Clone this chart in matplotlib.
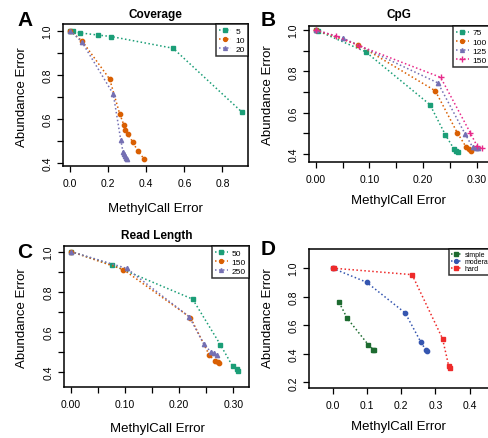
import matplotlib
matplotlib.use("Agg")
import matplotlib.pyplot as plt
from matplotlib.ticker import FixedLocator, FuncFormatter

plt.rcParams["font.family"] = ["Liberation Sans", "DejaVu Sans"]

# ---- data ----
# A: coverage
cov5_x = [0.0, 0.015, 0.05, 0.146, 0.217, 0.541, 0.904]
cov5_y = [1.0, 0.997, 0.99, 0.98, 0.973, 0.92, 0.629]
cov10_x = [0.0, 0.064, 0.208, 0.26, 0.283, 0.29, 0.303, 0.329, 0.355, 0.387]
cov10_y = [1.0, 0.952, 0.78, 0.624, 0.571, 0.55, 0.53, 0.495, 0.455, 0.42]
cov20_x = [0.0, 0.062, 0.227, 0.266, 0.278, 0.283, 0.29, 0.296, 0.30]
cov20_y = [1.0, 0.949, 0.712, 0.505, 0.45, 0.44, 0.43, 0.422, 0.417]

# B: CpG
cpg75_x = [0.0, 0.005, 0.093, 0.213, 0.242, 0.258, 0.262, 0.266]
cpg75_y = [1.0, 0.995, 0.895, 0.639, 0.492, 0.424, 0.415, 0.411]
cpg100_x = [0.0, 0.079, 0.223, 0.264, 0.281, 0.285, 0.29]
cpg100_y = [1.0, 0.929, 0.706, 0.503, 0.432, 0.424, 0.416]
cpg125_x = [0.0, 0.051, 0.228, 0.279, 0.293, 0.298, 0.303]
cpg125_y = [1.0, 0.961, 0.744, 0.495, 0.432, 0.428, 0.429]
cpg150_x = [0.0, 0.038, 0.08, 0.233, 0.288, 0.301, 0.31]
cpg150_y = [1.0, 0.971, 0.925, 0.771, 0.504, 0.438, 0.429]

# C: read length
rl50_x = [0.0, 0.076, 0.225, 0.276, 0.299, 0.306, 0.309]
rl50_y = [1.0, 0.933, 0.762, 0.535, 0.426, 0.411, 0.404]
rl150_x = [0.0, 0.097, 0.221, 0.256, 0.267, 0.271, 0.274]
rl150_y = [1.0, 0.91, 0.67, 0.481, 0.452, 0.447, 0.444]
rl250_x = [0.0, 0.103, 0.219, 0.246, 0.259, 0.264, 0.27]
rl250_y = [1.0, 0.916, 0.673, 0.536, 0.497, 0.491, 0.484]

# D: difficulty
simple_x = [0.019, 0.042, 0.104, 0.119, 0.122]
simple_y = [0.761, 0.651, 0.464, 0.429, 0.428]
moder_x = [0.0, 0.099, 0.212, 0.257, 0.272, 0.277]
moder_y = [1.0, 0.902, 0.686, 0.485, 0.427, 0.418]
hard_x = [0.0, 0.004, 0.232, 0.321, 0.339, 0.343]
hard_y = [1.0, 1.0, 0.955, 0.506, 0.314, 0.298]

GREEN, ORANGE, PURPLE, PINK = "#1b9e77", "#d95f02", "#7570b3", "#e7298a"
W, H = 488, 439

fig = plt.figure(figsize=(W / 100, H / 100), dpi=100)


def px_axes(l, r, t, b):
    return fig.add_axes([l / W, 1 - b / H, (r - l) / W, (b - t) / H])


def style(ax, xticks, xlabels, yticks, ylabels, xfmt):
    ax.xaxis.set_major_locator(FixedLocator(xticks))
    ax.yaxis.set_major_locator(FixedLocator(yticks))
    ax.xaxis.set_major_formatter(FuncFormatter(
        lambda v, p: (xfmt % v) if any(abs(v - t) < 1e-9 for t in xlabels) else ""))
    ax.yaxis.set_major_formatter(FuncFormatter(
        lambda v, p: ("%.1f" % v) if any(abs(v - t) < 1e-9 for t in ylabels) else ""))
    ax.tick_params(direction="out", length=4, width=0.9, labelsize=7.5, pad=5)
    ax.tick_params(axis="y", pad=3.5)
    for lab in ax.get_yticklabels():
        lab.set_rotation(90)
        lab.set_va("center")
    for s in ax.spines.values():
        s.set_linewidth(1.1)


def series(ax, x, y, c, m, label, ms=3.1):
    ax.plot(x, y, linestyle=(0, (1, 1.6)), color=c, marker=m, markersize=ms,
            markeredgewidth=1.0, linewidth=1.1, label=label, clip_on=False)


def legend(ax, fs=6, sp=0.15):
    lg = ax.legend(loc="upper right", fontsize=fs, frameon=True, fancybox=False,
                   borderaxespad=0, handlelength=1.5, handletextpad=0.5,
                   labelspacing=sp, borderpad=0.35, markerscale=0.9)
    lg.get_frame().set_edgecolor("black")
    lg.get_frame().set_linewidth(1.1)


def labels(letter, lx, ly, title, tx, ty, xlx, xly, ylx, yly):
    fig.text(lx / W, 1 - ly / H, letter, fontsize=15, fontweight="bold", ha="center", va="center")
    if title:
        fig.text(tx / W, 1 - ty / H, title, fontsize=8.5, fontweight="bold", ha="center", va="center")
    fig.text(xlx / W, 1 - xly / H, "MethylCall Error", fontsize=9.5, ha="center", va="center")
    fig.text(ylx / W, 1 - yly / H, "Abundance Error", fontsize=9.5, ha="center", va="center",
             rotation=90)


# ---- A ----
ax = px_axes(63, 248, 25, 167)
series(ax, cov5_x, cov5_y, GREEN, "s", "5")
series(ax, cov10_x, cov10_y, ORANGE, "o", "10")
series(ax, cov20_x, cov20_y, PURPLE, "^", "20")
ax.set_xlim(-0.037, 0.934)
ax.set_ylim(0.386, 1.03)
style(ax, [0, 0.2, 0.4, 0.6, 0.8], [0, 0.2, 0.4, 0.6, 0.8],
      [0.4, 0.5, 0.6, 0.7, 0.8, 0.9, 1.0], [0.4, 0.6, 0.8, 1.0], "%.1f")
legend(ax)
labels("A", 25, 21, "Coverage", 155, 15, 155, 209, 22, 97)

# ---- B ----
ax = px_axes(309, 490, 26.7, 162.7)
series(ax, cpg75_x, cpg75_y, GREEN, "s", "75")
series(ax, cpg100_x, cpg100_y, ORANGE, "o", "100")
series(ax, cpg125_x, cpg125_y, PURPLE, "^", "125")
series(ax, cpg150_x, cpg150_y, PINK, "+", "150", ms=4.5)
ax.set_xlim(-0.0125, 0.325)
ax.set_ylim(0.363, 1.021)
style(ax, [0, 0.05, 0.1, 0.15, 0.2, 0.25, 0.3], [0, 0.1, 0.2, 0.3],
      [0.4, 0.5, 0.6, 0.7, 0.8, 0.9, 1.0], [0.4, 0.6, 0.8, 1.0], "%.2f")
legend(ax)
labels("B", 268, 21, "CpG", 399, 15, 398, 201, 268, 95)

# ---- C ----
ax = px_axes(64, 249, 247.3, 388)
series(ax, rl50_x, rl50_y, GREEN, "s", "50")
series(ax, rl150_x, rl150_y, ORANGE, "o", "150")
series(ax, rl250_x, rl250_y, PURPLE, "^", "250")
ax.set_xlim(-0.0124, 0.329)
ax.set_ylim(0.323, 1.026)
style(ax, [0, 0.05, 0.1, 0.15, 0.2, 0.25, 0.3], [0, 0.1, 0.2, 0.3],
      [0.4, 0.5, 0.6, 0.7, 0.8, 0.9, 1.0], [0.4, 0.6, 0.8, 1.0], "%.2f")
legend(ax)
labels("C", 25, 252, "Read Length", 157, 236, 157, 429, 22, 318)

# ---- D ----
ax = px_axes(309, 497, 250, 389)
series(ax, simple_x, simple_y, "#1d6b30", "s", "simple")
series(ax, moder_x, moder_y, "#3556b0", "o", "moderate")
series(ax, hard_x, hard_y, "#ee2a2a", "s", "hard")
ax.set_xlim(-0.069, 0.48)
ax.set_ylim(0.16, 1.135)
style(ax, [0, 0.1, 0.2, 0.3, 0.4], [0, 0.1, 0.2, 0.3, 0.4],
      [0.2, 0.4, 0.6, 0.8, 1.0], [0.2, 0.4, 0.6, 0.8, 1.0], "%.1f")
legend(ax, fs=5, sp=0.0)
labels("D", 268, 250, None, 0, 0, 398, 427, 268, 318)

fig.savefig("out.png", dpi=100)
